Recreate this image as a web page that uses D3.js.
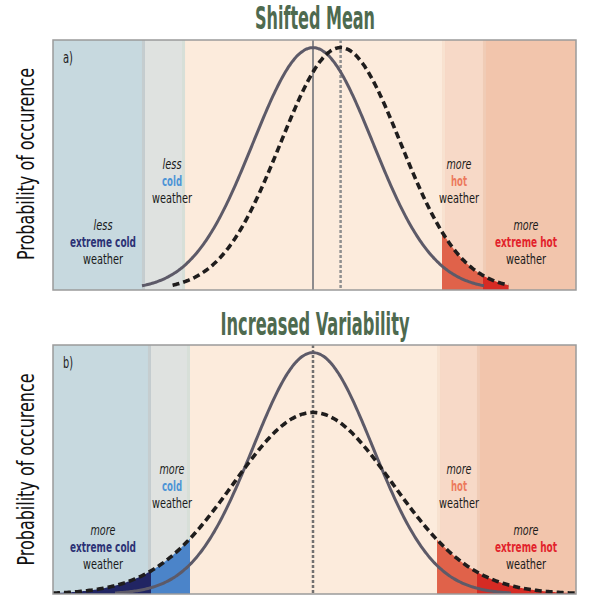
<!DOCTYPE html>
<html>
<head>
<meta charset="utf-8">
<script src="https://cdn.jsdelivr.net/npm/d3@7/dist/d3.min.js"></script>
<style>
  html, body { margin: 0; padding: 0; background: #ffffff; }
  svg { display: block; }
  text { font-family: "Liberation Sans Narrow", "DejaVu Sans Condensed", "Roboto", sans-serif; }
</style>
</head>
<body>
<script>
// ---------------- DATA ----------------
const panelTitles = ["Shifted Mean", "Increased Variability"];
const panelTags = ["a)", "b)"];
const yAxisLabel = "Probability of occurence";

// temperature axis, in units of the present-climate standard deviation
const temperatureDomain = [-4.333, 4.383];
const bandNames = ["extreme cold", "cold", "normal", "hot", "extreme hot"];
const bandEdgesA = [-4.333, -2.80, -2.133, 2.15, 2.833, 4.383];
const bandEdgesB = [-4.333, -2.70, -2.05, 2.067, 2.733, 4.383];

// distributions: [present (solid), future (dashed)]
const meansA = [0, 0.46];
const sdsA = [1, 1];
const meansB = [0, 0];
const sdsB = [1, 1.33];
// how far (in sd) each drawn curve reaches
const spansA = [2.85, 2.8];
const spansB = [3.3, 3.4];

// labels
const labelWords = ["extreme cold", "cold", "hot", "extreme hot"];
const qualifiersA = ["less", "less", "more", "more"];
const qualifiersB = ["more", "more", "more", "more"];
const filledBandsA = ["hot", "extreme hot"];
const filledBandsB = ["extreme cold", "cold", "hot", "extreme hot"];

// ---------------- STYLE ----------------
const bandColors = {
  "extreme cold": "#c7d9df",
  "cold": "#dfe2e0",
  "normal": "#fcebdc",
  "hot": "#f7d9c7",
  "extreme hot": "#f2c5ac"
};
const fillColors = {
  "extreme cold": "#212563",
  "cold": "#4b84c9",
  "hot": "#e0624a",
  "extreme hot": "#d62b24"
};
const wordColors = {
  "extreme cold": "#2c3275",
  "cold": "#4d95d6",
  "hot": "#ec7a5d",
  "extreme hot": "#e2232b"
};
const wordWidths = { "extreme cold": 66, "cold": 20, "hot": 16, "extreme hot": 62 };
const qualWidths = { "less": 19, "more": 25 };
const labelPixelX = { "extreme cold": 103, "cold": 172, "hot": 459, "extreme hot": 526 };

const W = 601, H = 606;
const svg = d3.select("body").append("svg").attr("width", W).attr("height", H);

const frameLeft = 53, frameRight = 576;
const panels = [
  { top: 40, bottom: 290, edges: bandEdgesA, means: meansA, sds: sdsA, spans: spansA,
    quals: qualifiersA, filled: filledBandsA, title: panelTitles[0], tag: panelTags[0],
    titleY: 29, titleW: 120, shifted: true },
  { top: 345, bottom: 594, edges: bandEdgesB, means: meansB, sds: sdsB, spans: spansB,
    quals: qualifiersB, filled: filledBandsB, title: panelTitles[1], tag: panelTags[1],
    titleY: 335, titleW: 189, shifted: false }
];

const x = d3.scaleLinear().domain(temperatureDomain).range([frameLeft, frameRight]);
const pdf = (t, m, s) => Math.exp(-0.5 * ((t - m) / s) ** 2) / (s * Math.sqrt(2 * Math.PI));

panels.forEach((p, pi) => {
  const g = svg.append("g");
  const y = d3.scaleLinear().domain([0, 0.4115]).range([p.bottom, p.top]);
  const clipId = "clip" + pi;
  svg.append("clipPath").attr("id", clipId).append("rect")
    .attr("x", frameLeft).attr("y", p.top).attr("width", frameRight - frameLeft).attr("height", p.bottom - p.top);
  const inner = g.append("g").attr("clip-path", `url(#${clipId})`);

  // bands
  bandNames.forEach((b, i) => {
    inner.append("rect")
      .attr("x", x(p.edges[i])).attr("y", p.top)
      .attr("width", x(p.edges[i + 1]) - x(p.edges[i]))
      .attr("height", p.bottom - p.top)
      .attr("fill", bandColors[b]);
  });
  // subtle band boundary strips
  const stripCols = ["#c4c9ca", "#d5ded6", "#f7e3d2", "#efcdb9"];
  for (let i = 1; i < bandNames.length; i++) {
    inner.append("rect")
      .attr("x", x(p.edges[i]) - (i <= 2 ? 3 : 0)).attr("y", p.top)
      .attr("width", 3).attr("height", p.bottom - p.top)
      .attr("fill", stripCols[i - 1]).attr("opacity", 0.8);
  }

  const curveSamples = (k) => {
    const m = p.means[k], s = p.sds[k];
    const lo = Math.max(temperatureDomain[0], m - p.spans[k] * s);
    const hi = Math.min(temperatureDomain[1], m + p.spans[k] * s);
    return d3.range(0, 301).map(j => lo + (hi - lo) * j / 300);
  };

  // filled tails under the future (dashed) curve
  const fm = p.means[1], fs = p.sds[1];
  const fLo = Math.max(temperatureDomain[0], fm - p.spans[1] * fs);
  const fHi = Math.min(temperatureDomain[1], fm + p.spans[1] * fs);
  p.filled.forEach(b => {
    const i = bandNames.indexOf(b);
    const a0 = Math.max(p.edges[i], fLo), a1 = Math.min(p.edges[i + 1], fHi);
    if (a1 <= a0) return;
    const pts = d3.range(0, 101).map(j => a0 + (a1 - a0) * j / 100);
    const area = d3.area().x(t => x(t)).y0(p.bottom).y1(t => y(pdf(t, fm, fs)));
    inner.append("path").datum(pts).attr("d", area).attr("fill", fillColors[b]);
  });

  // mean lines
  if (p.shifted) {
    inner.append("line").attr("x1", x(p.means[0])).attr("x2", x(p.means[0]))
      .attr("y1", p.top).attr("y2", p.bottom).attr("stroke", "#8d8b8d").attr("stroke-width", 2);
    inner.append("line").attr("x1", x(p.means[1])).attr("x2", x(p.means[1]))
      .attr("y1", p.top).attr("y2", p.bottom).attr("stroke", "#8f8f8f").attr("stroke-width", 2.5)
      .attr("stroke-dasharray", "3,2");
  } else {
    inner.append("line").attr("x1", x(p.means[0])).attr("x2", x(p.means[0]))
      .attr("y1", p.top).attr("y2", p.bottom).attr("stroke", "#727070").attr("stroke-width", 2.5)
      .attr("stroke-dasharray", "3,2");
  }

  const line = (k) => d3.line().x(t => x(t)).y(t => y(pdf(t, p.means[k], p.sds[k]))).curve(d3.curveBasis);
  // present (solid)
  inner.append("path").datum(curveSamples(0)).attr("d", line(0))
    .attr("fill", "none").attr("stroke", "#5d5a68").attr("stroke-width", 3);
  // future (dashed)
  inner.append("path").datum(curveSamples(1)).attr("d", line(1))
    .attr("fill", "none").attr("stroke", "#1f1d1d").attr("stroke-width", 3.6)
    .attr("stroke-dasharray", "7,4");

  // labels
  const upperRows = [124, 141, 158], lowerRows = [185, 202, 219];
  const fs14 = 14.2;
  labelWords.forEach((w, i) => {
    const rows = (w === "cold" || w === "hot") ? upperRows : lowerRows;
    const lx = labelPixelX[w];
    const q = p.quals[i];
    const t = g.append("g");
    t.append("text").attr("x", lx).attr("y", p.top + rows[0] + 5)
      .attr("text-anchor", "middle").attr("font-size", fs14).attr("font-style", "italic")
      .attr("fill", "#1a1a1a").attr("textLength", qualWidths[q]).attr("lengthAdjust", "spacingAndGlyphs").text(q);
    t.append("text").attr("x", lx).attr("y", p.top + rows[1] + 5)
      .attr("text-anchor", "middle").attr("font-size", fs14).attr("font-weight", "bold")
      .attr("fill", wordColors[w]).attr("textLength", wordWidths[w]).attr("lengthAdjust", "spacingAndGlyphs").text(w);
    t.append("text").attr("x", lx).attr("y", p.top + rows[2] + 5)
      .attr("text-anchor", "middle").attr("font-size", fs14)
      .attr("fill", "#1a1a1a").attr("textLength", 40).attr("lengthAdjust", "spacingAndGlyphs").text("weather");
  });

  // panel tag
  g.append("text").attr("x", 63).attr("y", p.top + 23).attr("font-size", 15)
    .attr("fill", "#222").attr("textLength", 10).attr("lengthAdjust", "spacingAndGlyphs").text(p.tag);

  // frame
  g.append("rect").attr("x", frameLeft).attr("y", p.top)
    .attr("width", frameRight - frameLeft).attr("height", p.bottom - p.top)
    .attr("fill", "none").attr("stroke", "#9b9b9b").attr("stroke-width", 1.5);

  // title
  svg.append("text").attr("x", 315).attr("y", p.titleY).attr("text-anchor", "middle")
    .attr("font-size", 32).attr("font-weight", "bold").attr("fill", "#4e6a4f")
    .attr("textLength", p.titleW).attr("lengthAdjust", "spacingAndGlyphs").text(p.title);

  // y axis label
  const cy = (p.top + p.bottom) / 2 + (pi === 0 ? -1 : 0);
  svg.append("text").attr("transform", `translate(34,${cy}) rotate(-90)`)
    .attr("text-anchor", "middle").attr("font-size", 23).attr("fill", "#111")
    .attr("textLength", 192).attr("lengthAdjust", "spacingAndGlyphs").text(yAxisLabel);
});
</script>
</body>
</html>
